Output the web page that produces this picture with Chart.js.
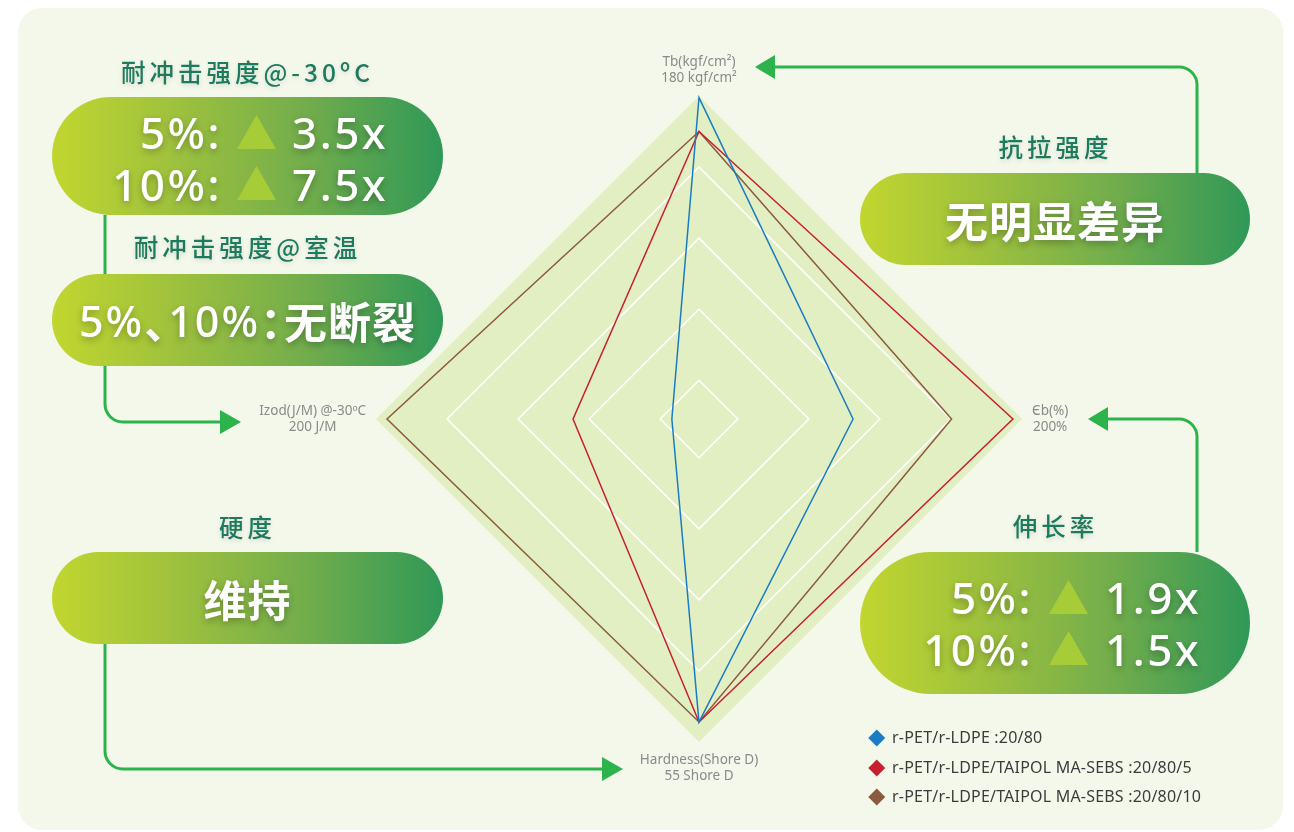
<!DOCTYPE html>
<html lang="zh">
<head>
<meta charset="utf-8">
<title>r-PET/r-LDPE radar</title>
<script src="https://cdn.jsdelivr.net/npm/chart.js@4/dist/chart.umd.min.js"></script>
<style>
  html, body { margin: 0; padding: 0; background: #fff; }
  body { width: 1294px; height: 832px; position: relative; overflow: hidden; font-family: "Noto Sans", "Noto Sans CJK SC", sans-serif; }
  .card { position: absolute; left: 18px; top: 8px; width: 1265px; height: 822px; border-radius: 24px; background: #f4f8ea; }
  #wrap { position: absolute; left: 0; top: 0; width: 1294px; height: 832px; }
  svg.links { position: absolute; left: 0; top: 0; }
  .title { position: absolute; width: 391px; text-align: center; color: #1c7a5f; font-family: "Noto Sans CJK SC", sans-serif;
    font-size: 24.5px; font-weight: 500; letter-spacing: 4px; line-height: 30px; text-shadow: 0 2px 5px rgba(0,0,0,0.12); }
  .pill { position: absolute; width: 391px; height: 92px; border-radius: 46px; color: #fff;
    background: linear-gradient(90deg, #c1d62f 0%, #9abf3f 35%, #72ad4c 65%, #2f9857 100%); }
  .pill.center { display: flex; align-items: center; justify-content: center; font-size: 43px; font-weight: 700;
    font-family: "Noto Sans CJK SC", sans-serif; text-shadow: 0 3px 7px rgba(0,0,0,0.28); letter-spacing: 1px; }
  .pill.center .num { font-family: "Noto Sans", "Noto Sans CJK SC", sans-serif; font-weight: 500; letter-spacing: 2px; }
  .pill.center .p { margin-right: -20px; font-weight: 700; }
  .pill .lbl, .pill .val { position: absolute; font-size: 44px; font-weight: 500; line-height: 43px; white-space: nowrap;
    text-shadow: 0 3px 7px rgba(0,0,0,0.28); letter-spacing: 2.5px; }
  .pill .lbl { left: 0; text-align: right; }
  .pill .tri { position: absolute; width: 39px; height: 34px; background: #a6cc38; clip-path: polygon(50% 0, 100% 100%, 0 100%);
    filter: drop-shadow(0 2px 4px rgba(0,0,0,0.3)); }
  #legend { position: absolute; left: 866px; top: 723px; font-size: 16px; letter-spacing: 0.2px; color: #3c3c3c; }
  #legend .li { height: 29.5px; line-height: 29.5px; white-space: nowrap; position: relative; padding-left: 26px; }
  #legend .dm { position: absolute; left: 5px; top: 9px; width: 11.5px; height: 11.5px; transform: rotate(45deg); }
</style>
</head>
<body>
<div class="card"></div>
<div id="wrap"><canvas id="radar"></canvas></div>

<svg class="links" width="1294" height="832">
  <g fill="none" stroke="#2cb34c" stroke-width="3">
    <path d="M105 215 V404 A18 18 0 0 0 123 422 H224"/>
    <path d="M105 644 V751 A18 18 0 0 0 123 769 H606"/>
    <path d="M1197 173 V85 A18 18 0 0 0 1179 67 H772"/>
    <path d="M1197 552 V437 A18 18 0 0 0 1179 419 H1106"/>
  </g>
  <g fill="#2cb34c">
    <polygon points="220,410 241,422 220,434"/>
    <polygon points="602,757 623,769 602,781"/>
    <polygon points="775,55 755,67 775,79"/>
    <polygon points="1108,407 1088,419 1108,431"/>
  </g>
</svg>

<div class="title" style="left:52px; top:57px;">耐冲击强度@-30ºC</div>
<div class="pill" style="left:52px; top:97px; height:118px; border-radius:59px;">
  <div class="lbl" style="top:14px; width:170px;">5%:</div>
  <div class="tri" style="left:185px; top:18px;"></div>
  <div class="val" style="left:240px; top:14px;">3.5x</div>
  <div class="lbl" style="top:66px; width:170px;">10%:</div>
  <div class="tri" style="left:185px; top:69px;"></div>
  <div class="val" style="left:240px; top:66px;">7.5x</div>
</div>

<div class="title" style="left:52px; top:232px;">耐冲击强度@室温</div>
<div class="pill center" style="left:52px; top:274px;"><span class="num">5%</span><span class="p">、</span><span class="num">10%</span><span class="p">：</span>无断裂</div>

<div class="title" style="left:52px; top:512px;">硬度</div>
<div class="pill center" style="left:52px; top:552px;">维持</div>

<div class="title" style="left:860px; top:132px;">抗拉强度</div>
<div class="pill center" style="left:860px; top:173px; width:390px;">无明显差异</div>

<div class="title" style="left:860px; top:511px;">伸长率</div>
<div class="pill" style="left:860px; top:552px; width:390px; height:142px; border-radius:71px;">
  <div class="lbl" style="top:24px; width:173px;">5%:</div>
  <div class="tri" style="left:189px; top:28px;"></div>
  <div class="val" style="left:245px; top:24px;">1.9x</div>
  <div class="lbl" style="top:76px; width:173px;">10%:</div>
  <div class="tri" style="left:189px; top:79px;"></div>
  <div class="val" style="left:245px; top:76px;">1.5x</div>
</div>

<div id="legend"></div>

<script>
// Axes, clockwise from the top. Values are % of each axis' full scale.
const axisNames = ['Tb(kgf/cm²)', 'Єb(%)', 'Hardness(Shore D)', 'Izod(J/M) @-30ºC'];
const axisUnits = ['180 kgf/cm²', '200%', '55 Shore D', '200 J/M'];
const ringValues = [0, 12, 34, 56, 78];

const seriesNames = [
  'r-PET/r-LDPE :20/80',
  'r-PET/r-LDPE/TAIPOL MA-SEBS :20/80/5',
  'r-PET/r-LDPE/TAIPOL MA-SEBS :20/80/10',
];
const seriesColors = ['#1a7cc4', '#c62030', '#8c5a3c'];
const blendBase = [99.5, 47.7, 93.8, 8.4];
const blend5 = [89, 97.2, 93.8, 39];
const blend10 = [89, 78.2, 93.8, 96.6];
const seriesData = [blendBase, blend5, blend10];

// ── Axis captions, centred two-line blocks outside each tip ──────────────────
const axisLabels = {
  id: 'axisLabels',
  afterDraw(chart) {
    const r = chart.scales.r;
    const ctx = chart.ctx;
    const lh = 16;
    ctx.save();
    ctx.font = '13.5px "Noto Sans"';
    ctx.fillStyle = '#8a8a8a';
    ctx.textAlign = 'center';
    ctx.textBaseline = 'middle';
    axisNames.forEach((name, i) => {
      const lines = [name, axisUnits[i]];
      const w = Math.max(...lines.map((l) => ctx.measureText(l).width));
      const h = lines.length * lh;
      const p = r.getPointPosition(i, r.drawingArea + 10);
      let cx = p.x, top = p.y - h / 2;
      if (i === 0) top = p.y - h;
      else if (i === 2) top = p.y;
      else if (i === 1) cx = p.x + w / 2;
      else cx = p.x - w / 2;
      lines.forEach((l, k) => ctx.fillText(l, cx, top + lh * k + lh / 2));
    });
    ctx.restore();
  },
};

new Chart(document.getElementById('radar'), {
  type: 'radar',
  data: {
    labels: axisNames,
    datasets: seriesData.map((d, i) => ({
      label: seriesNames[i],
      data: d,
      borderColor: seriesColors[i],
      borderWidth: 1.5,
      pointRadius: 0,
      fill: false,
      tension: 0,
    })),
  },
  options: {
    responsive: true,
    maintainAspectRatio: false,
    animation: false,
    layout: { padding: { left: 104, top: 96, bottom: 90, right: 0 } },
    plugins: { legend: { display: false }, tooltip: { enabled: false } },
    scales: {
      r: {
        min: 0,
        max: 100,
        backgroundColor: '#e2efc3',
        angleLines: { display: false },
        grid: { color: '#ffffff', lineWidth: 1.5 },
        ticks: { display: false },
        pointLabels: { display: false },
        afterBuildTicks: (scale) => { scale.ticks = ringValues.map((v) => ({ value: v })); },
      },
    },
  },
  plugins: [axisLabels],
});

document.getElementById('legend').innerHTML = seriesNames.map((n, i) =>
  `<div class="li"><span class="dm" style="background:${seriesColors[i]}"></span>${n}</div>`).join('');
</script>
</body>
</html>
